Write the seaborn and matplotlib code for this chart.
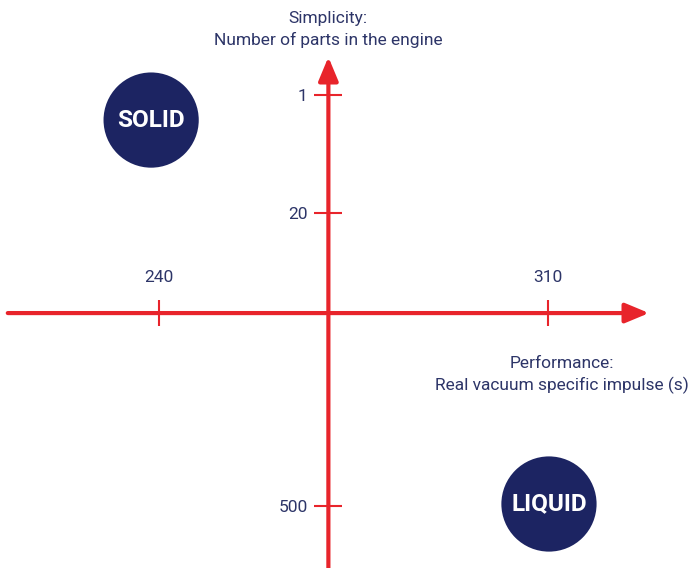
import numpy as np
import pandas as pd
import matplotlib
matplotlib.use("Agg")
import matplotlib.pyplot as plt
import matplotlib.transforms as mtransforms
from matplotlib.ticker import NullLocator
import seaborn as sns

# values
propellants = ["SOLID", "LIQUID"]
isp = [238.6, 310.2]          # real vacuum specific impulse (s)
parts = [3.4, 490]            # number of parts in the engine
isp_ticks = [240, 310]
parts_ticks = [1, 20, 500]

RED = "#e8242b"
NAVY = "#1c2462"
TEXT = "#2d3568"

sns.set_theme(style="white")
plt.rcParams["font.family"] = ["Roboto", "DejaVu Sans"]

fig = plt.figure(figsize=(6.89, 5.68), dpi=100)
ax = fig.add_axes([0, 0, 1, 1])


# the parts axis is squeezed like in the original: log(n + 7.5)
def fwd(v):
    return np.log(np.maximum(np.asarray(v, dtype=float) + 7.5, 1e-9))


def inv(u):
    return np.exp(u) - 7.5


ax.set_yscale("function", functions=(fwd, inv))

df = pd.DataFrame({"isp": isp, "parts": parts, "type": propellants})
sns.scatterplot(data=df, x="isp", y="parts", s=4700, color=NAVY,
                edgecolor="none", legend=False, ax=ax, zorder=3)
for _, r in df.iterrows():
    ax.text(r["isp"], r["parts"], r["type"], color="white", fontsize=17.5,
            fontweight="bold", ha="center", va="center", zorder=4)

ax.set_xlim(211.4, 335.4)
ax.set_ylim(933, -4.2)
ax.set_xlabel("")
ax.set_ylabel("")

x0, y0 = 270.5, 66.9  # where the two axes cross

arrow = dict(arrowstyle="-|>,head_length=1.2,head_width=0.5", color=RED,
             lw=3, shrinkA=0, shrinkB=0, capstyle="round")
ax.annotate("", xy=(328.2, y0), xytext=(212.8, y0), arrowprops=arrow)
ax.annotate("", xy=(x0, -1.68), xytext=(x0, 2000), arrowprops=arrow,
            annotation_clip=False)

# ticks live on the spines moved to the crossing point
ax.spines["bottom"].set_visible(False)
ax.spines["right"].set_visible(False)
ax.spines["top"].set_position(("data", y0))
ax.spines["left"].set_position(("data", x0))
ax.spines["top"].set_color("none")
ax.spines["left"].set_color("none")

ax.xaxis.set_ticks_position("top")
ax.yaxis.set_ticks_position("left")
ax.set_xticks(isp_ticks, labels=[str(v) for v in isp_ticks])
ax.set_yticks(parts_ticks, labels=[str(v) for v in parts_ticks])
ax.xaxis.set_minor_locator(NullLocator())
ax.yaxis.set_minor_locator(NullLocator())
ax.tick_params(axis="x", top=True, labeltop=True, bottom=False, labelbottom=False,
               direction="inout", length=19, width=1.5, color=RED,
               labelcolor=TEXT, labelsize=12.5, pad=11)
ax.tick_params(axis="y", left=True, labelleft=True, direction="inout",
               length=20, width=1.5, color=RED, labelcolor=TEXT,
               labelsize=12.5, pad=5)

blend = mtransforms.blended_transform_factory(ax.transData, ax.transAxes)
ax.text(x0, 0.98, "Simplicity:\nNumber of parts in the engine", transform=blend,
        ha="center", va="top", multialignment="center", color=TEXT,
        fontsize=12.5, linespacing=1.45)
ax.text(312.5, 0.373, "Performance:\nReal vacuum specific impulse (s)", transform=blend,
        ha="center", va="top", multialignment="center", color=TEXT,
        fontsize=12.5, linespacing=1.45)

fig.savefig("out.png", dpi=100)
